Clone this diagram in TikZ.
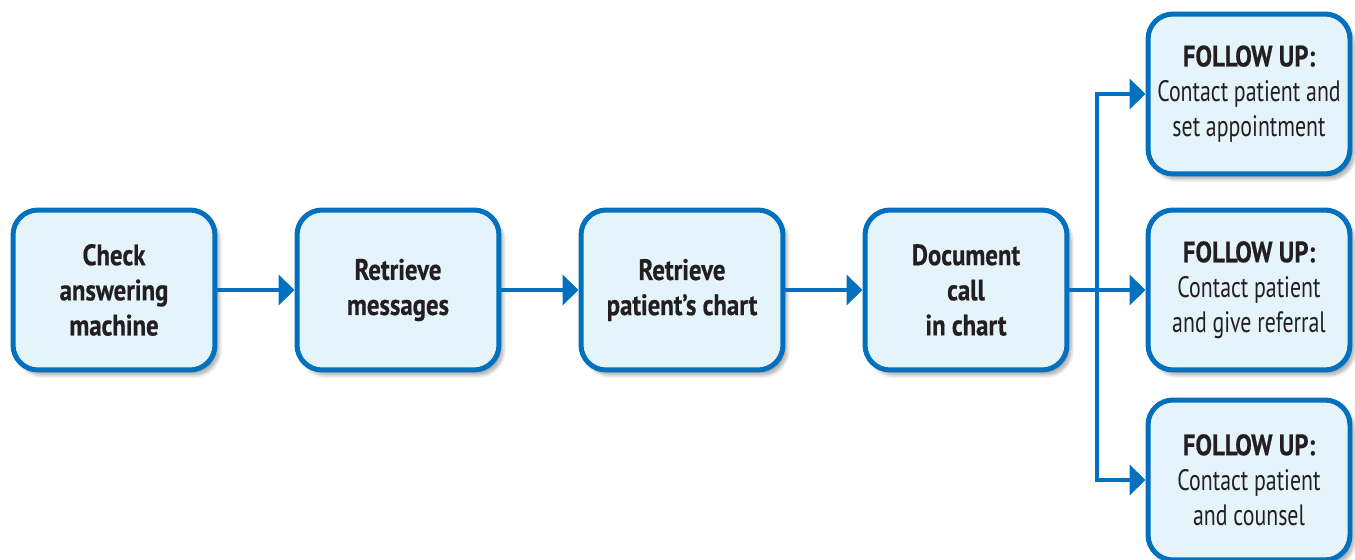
\documentclass[tikz,border=0pt]{standalone}
\usepackage{fontspec}
\setmainfont{PT Sans}[FakeStretch=0.74, BoldFeatures={FakeStretch=0.84, FakeBold=0.5}]
\usepackage{tikz}
\usetikzlibrary{calc}
\usetikzlibrary{arrows.meta,arrows}
\usetikzlibrary{shadows.blur}
\definecolor{boxblue}{HTML}{0070BF}
\definecolor{boxfill}{HTML}{E5F3FB}
\definecolor{textgray}{HTML}{231F20}
\def\gap{284}

\tikzset{
  stepbox/.style={draw=boxblue, fill=boxfill, line width=0.1cm, rounded corners=0.5cm,
    minimum width=4.04cm, minimum height=3.2cm, align=center, text=textgray,
    font=\fontsize{16.8}{20}\selectfont,
    blur shadow={shadow xshift=0.08cm, shadow yshift=-0.1cm, shadow opacity=35, shadow blur steps=8}},
  flow/.style={boxblue, line width=0.09cm, -{Triangle[length=0.32cm, width=0.6cm]}}
}

\begin{document}
\begin{tikzpicture}[x=0.02cm, y=-0.02cm]
\useasboundingbox (0, 0) rectangle (1355, 560);
% MAIN ROW
\node[stepbox] (check) at (114, 290) {\textbf{Check}\\\textbf{answering}\\\textbf{machine}};
\node[stepbox] (retrieve) at (114+\gap, 290) {\textbf{Retrieve}\\\textbf{messages}};
\node[stepbox] (chart) at (114+2*\gap, 290) {\textbf{Retrieve}\\\textbf{patient's chart}};
\node[stepbox] (document) at (114+3*\gap, 290) {\textbf{Document}\\\textbf{call}\\\textbf{in chart}};
% FOLLOW UPS
\node[stepbox] (appoint) at (1249, 94) {\textbf{FOLLOW UP:}\\Contact patient and\\set appointment};
\node[stepbox] (referral) at (1249, 290) {\textbf{FOLLOW UP:}\\Contact patient\\and give referral};
\node[stepbox] (counsel) at (1249, 480) {\textbf{FOLLOW UP:}\\Contact patient\\and counsel};

% arrows
\draw[flow] (check) -- (retrieve);
\draw[flow] (retrieve) -- (chart);
\draw[flow] (chart) -- (document);
\draw[flow] (document) -- (referral);
% branch
\coordinate (fork) at (1097, 290);
\draw[flow] (fork) |- (appoint.west);
\draw[flow] (fork) |- (counsel.west);
\end{tikzpicture}
\end{document}
